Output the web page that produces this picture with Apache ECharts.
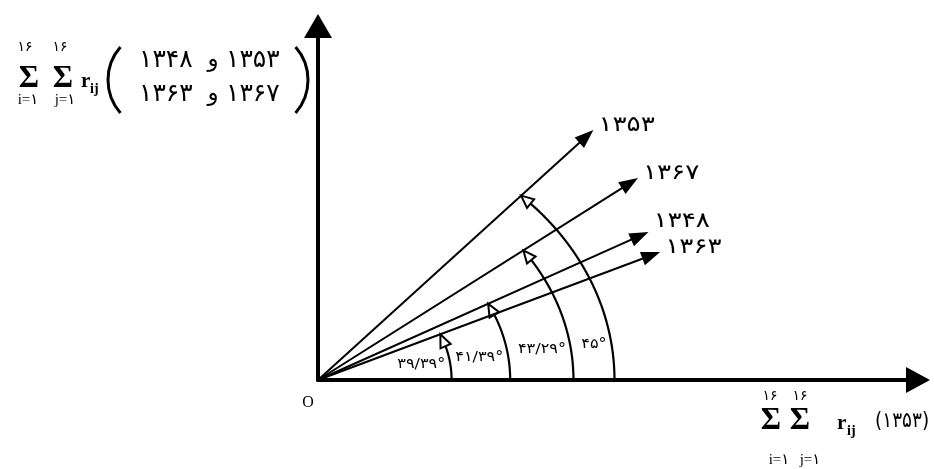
<!DOCTYPE html>
<html>
<head>
<meta charset="UTF-8">
<script src="https://cdn.jsdelivr.net/npm/echarts@6/dist/echarts.min.js"></script>
<style>
    html, body { margin: 0; padding: 0; background: #fff; }
    #chart { width: 934px; height: 469px; }
</style>
</head>
<body>
<div id="chart"></div>
<script type="text/javascript">
    // year vectors (x: sum r_ij of 1353, y: sum r_ij of the other years)
    var years = ['۱۳۵۳', '۱۳۶۷', '۱۳۴۸', '۱۳۶۳'];
    var sumX = [235, 273, 282, 292];
    var sumY = [250, 202, 148, 128];

    // angle arcs: label, radius, and the vector each arc runs up to
    var arcLabels = ['۳۹/۳۹°', '۴۱/۳۹°', '۴۳/۲۹°', '۴۵°'];
    var arcRadius = [114, 164, 218, 253];
    var arcTarget = ['۱۳۶۳', '۱۳۴۸', '۱۳۶۷', '۱۳۵۳'];

    // axis extents
    var xMax = 512, yMax = 354;

    var FA = '"DejaVu Sans"';
    var SERIF = '"Liberation Serif", "DejaVu Serif", "DejaVu Sans"';
    var labelShiftY = { '۱۳۴۸': -10 };

    var chart = echarts.init(document.getElementById('chart'));

    var vectorData = sumX.map(function (x, i) { return [x, sumY[i]]; });
    var arcData = arcRadius.map(function (r, i) {
        var k = years.indexOf(arcTarget[i]);
        return [r, Math.atan2(sumY[k], sumX[k])];
    });

    //filled arrow from the origin to the year point
    var renderVector = function (params, api) {
        var p0 = api.coord([0, 0]);
        var p1 = api.coord([api.value(0), api.value(1)]);
        var a = Math.atan2(p1[1] - p0[1], p1[0] - p0[0]);
        var ux = Math.cos(a), uy = Math.sin(a);
        var len = 19, half = 7;
        var bx = p1[0] - ux * len, by = p1[1] - uy * len;
        var name = years[params.dataIndex];
        return {
            type: 'group',
            children: [
                { type: 'line', shape: { x1: p0[0], y1: p0[1], x2: bx + ux * 2, y2: by + uy * 2 },
                  style: { stroke: '#000', lineWidth: 2 } },
                { type: 'polygon', shape: { points: [p1, [bx - uy * half, by + ux * half], [bx + uy * half, by - ux * half]] },
                  style: { fill: '#000' } },
                { type: 'text', x: p1[0] + 5, y: p1[1] + (labelShiftY[name] || -4), scaleX: 1.25,
                  style: { text: name, fill: '#000', font: '21px ' + FA, align: 'left', verticalAlign: 'middle' } }
            ]
        };
    };

    //angle arc with an open arrow head
    var renderArc = function (params, api) {
        var r = api.value(0), end = api.value(1);
        var tip = api.coord([r * Math.cos(end), r * Math.sin(end)]);
        var pts = [], base = tip, n = 200;
        for (var i = 0; i <= n; i++) {
            var t = end * i / n;
            var p = api.coord([r * Math.cos(t), r * Math.sin(t)]);
            if (Math.sqrt((p[0] - tip[0]) * (p[0] - tip[0]) + (p[1] - tip[1]) * (p[1] - tip[1])) < 13) {
                base = p;
                break;
            }
            pts.push(p);
        }
        pts.push(base);
        var dx = tip[0] - base[0], dy = tip[1] - base[1];
        var d = Math.sqrt(dx * dx + dy * dy) || 1;
        var ux = dx / d, uy = dy / d, half = 5.5;
        var la = 8 * Math.PI / 180;
        var lp = api.coord([r * Math.cos(la), r * Math.sin(la)]);
        return {
            type: 'group',
            children: [
                { type: 'polyline', shape: { points: pts }, style: { stroke: '#000', lineWidth: 2.2, fill: null } },
                { type: 'polygon', shape: { points: [tip, [base[0] - uy * half, base[1] + ux * half], [base[0] + uy * half, base[1] - ux * half]] },
                  style: { fill: '#fff', stroke: '#000', lineWidth: 2 } },
                { type: 'text', x: lp[0] - 5, y: lp[1], scaleX: 1.15,
                  style: { text: arcLabels[params.dataIndex], fill: '#000', font: '14px ' + FA, align: 'right', verticalAlign: 'middle' } }
            ]
        };
    };

    var txt = function (x, y, text, font, align) {
        return { type: 'text', x: x, y: y, silent: true,
                 style: { text: text, font: font, fill: '#000', align: align || 'center', verticalAlign: 'middle' } };
    };

    var titles = [
        // y axis title
        txt(25, 47, '۱۶', '14px ' + FA), txt(60, 47, '۱۶', '14px ' + FA),
        txt(29, 79, 'Σ', 'bold 31px ' + SERIF), txt(63, 79, 'Σ', 'bold 31px ' + SERIF),
        txt(28, 100, 'i=۱', '15px ' + SERIF), txt(65, 100, 'j=۱', '15px ' + SERIF),
        txt(81, 82, 'r', 'bold 21px ' + SERIF, 'left'), txt(90, 89, 'ij', 'bold 14px ' + SERIF, 'left'),
        { type: 'arc', shape: { cx: 158, cy: 80, r: 50, startAngle: Math.PI - 0.72, endAngle: Math.PI + 0.72 },
          style: { stroke: '#000', lineWidth: 3, fill: null } },
        { type: 'arc', shape: { cx: 258, cy: 80, r: 50, startAngle: -0.72, endAngle: 0.72 },
          style: { stroke: '#000', lineWidth: 3, fill: null } },
        txt(139, 60, '۱۳۴۸', '25px ' + FA, 'left'), txt(213, 60, 'و', '23px ' + FA),
        txt(226, 60, '۱۳۵۳', '25px ' + FA, 'left'),
        txt(139, 94, '۱۳۶۳', '25px ' + FA, 'left'), txt(213, 94, 'و', '23px ' + FA),
        txt(226, 94, '۱۳۶۷', '25px ' + FA, 'left'),
        // x axis title
        txt(770, 396, '۱۶', '14px ' + FA), txt(800, 396, '۱۶', '14px ' + FA),
        txt(771, 421, 'Σ', 'bold 31px ' + SERIF), txt(800, 421, 'Σ', 'bold 31px ' + SERIF),
        txt(779, 460, 'i=۱', '15px ' + SERIF), txt(810, 460, 'j=۱', '15px ' + SERIF),
        txt(837, 424, 'r', 'bold 21px ' + SERIF, 'left'), txt(847, 431, 'ij', 'bold 14px ' + SERIF, 'left'),
        { type: 'text', x: 875, y: 422, scaleX: 0.88, silent: true,
          style: { text: '(۱۳۵۳)', font: '21px ' + FA, fill: '#000', align: 'left', verticalAlign: 'middle' } },
        // origin
        txt(308, 403, 'O', '16px ' + SERIF)
    ];

    var axisCommon = {
        type: 'value',
        axisTick: { show: false },
        axisLabel: { show: false },
        splitLine: { show: false }
    };

    var option = {
        animation: false,
        backgroundColor: '#fff',
        grid: { left: 318, right: 16, top: 26, bottom: 89, containLabel: false },
        xAxis: echarts.util.merge({
            min: 0, max: xMax,
            axisLine: { show: true, onZero: false, symbol: ['none', 'triangle'], symbolSize: [26, 24],
                        lineStyle: { color: '#000', width: 4 } }
        }, axisCommon),
        yAxis: echarts.util.merge({
            min: 0, max: yMax,
            axisLine: { show: true, onZero: false, symbol: ['none', 'triangle'], symbolSize: [28, 24],
                        lineStyle: { color: '#000', width: 4 } }
        }, axisCommon),
        graphic: { elements: titles },
        series: [
            { type: 'custom', name: 'arcs', data: arcData, renderItem: renderArc, silent: true },
            { type: 'custom', name: 'vectors', data: vectorData, renderItem: renderVector, silent: true }
        ]
    };

    chart.setOption(option);
</script>
</body>
</html>
